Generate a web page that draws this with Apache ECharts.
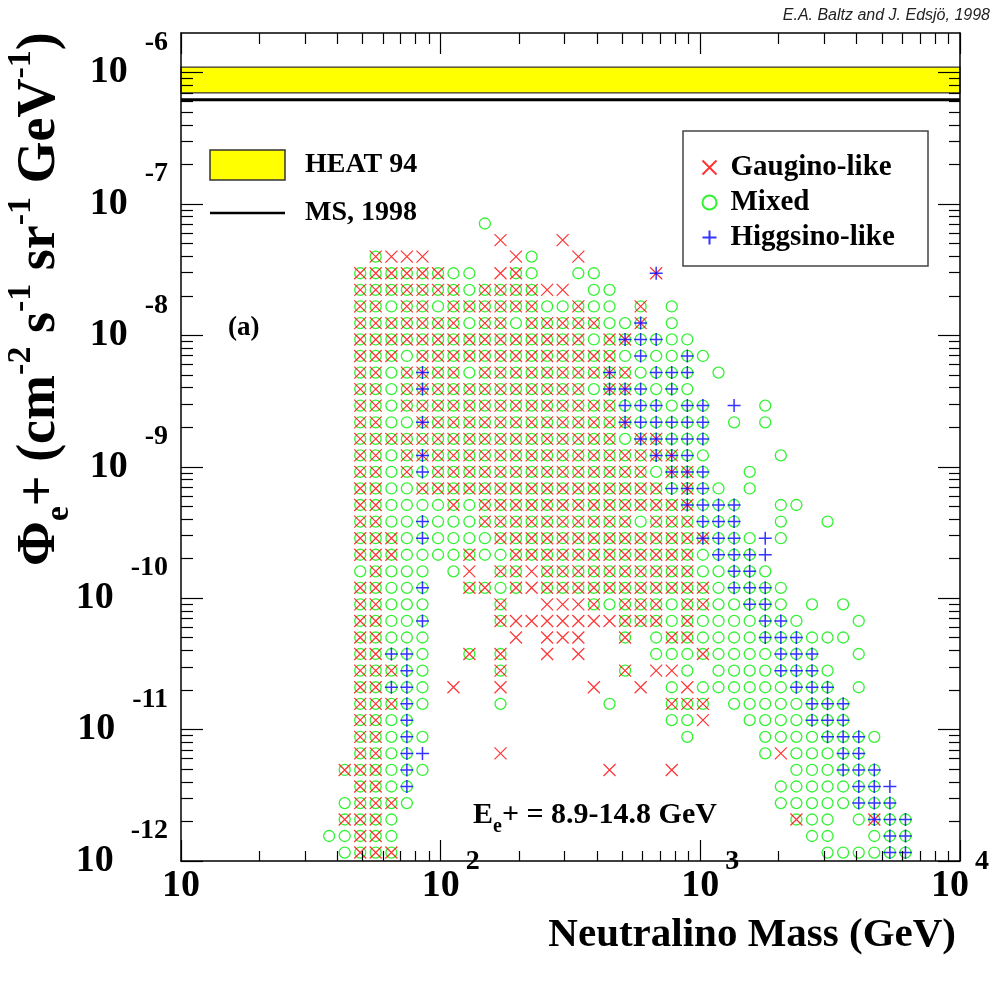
<!DOCTYPE html>
<html>
<head>
<meta charset="utf-8">
<script src="https://cdn.jsdelivr.net/npm/echarts@6.0.0/dist/echarts.min.js"></script>
<style>
  html, body { margin: 0; padding: 0; background: #fff; }
  #chart { width: 1001px; height: 983px; }
</style>
</head>
<body>
<div id="chart"></div>
<script>
// neutralino mass bins (GeV), left to right
var massGeV = [37.2, 42.7, 49.0, 56.2, 64.6, 74.1, 85.1, 97.7, 112, 129,
               148, 170, 195, 224, 257, 295, 339, 389, 447, 513,
               589, 676, 776, 891, 1023, 1175, 1349, 1549, 1778, 2042,
               2344, 2692, 3090, 3548, 4074, 4677, 5370, 6166];

// positron flux bins (cm^-2 s^-1 sr^-1 GeV^-1), top to bottom
var fluxRows = [7.10e-8, 5.31e-8, 3.97e-8, 2.97e-8, 2.22e-8, 1.66e-8, 1.24e-8,
                9.31e-9, 6.97e-9, 5.21e-9, 3.90e-9, 2.92e-9, 2.18e-9, 1.63e-9, 1.22e-9,
                9.14e-10, 6.84e-10, 5.12e-10, 3.83e-10, 2.86e-10, 2.14e-10, 1.60e-10, 1.20e-10,
                8.98e-11, 6.71e-11, 5.02e-11, 3.76e-11, 2.81e-11, 2.10e-11, 1.57e-11, 1.18e-11,
                8.81e-12, 6.59e-12, 4.93e-12, 3.69e-12, 2.76e-12, 2.07e-12, 1.55e-12, 1.16e-12];

// one string per flux row, one char per mass bin
// x gaugino, o mixed, + higgsino, # gaugino+mixed, @ mixed+higgsino, * gaugino+higgsino, & all three
var cellRows = [
  '..........|o.........|..........|........',
  '..........|.x...x....|..........|........',
  '...#xxx...|..xo..x...|..........|........',
  '..######oo|.x#o..oo..|.*........|........',
  '..#######o|####xx.oo.|..........|........',
  '..##o##o##|####oo#oo.|#.o.......|........',
  '..#######o|##o#####oo|&.o.......|........',
  '..########|#######o#&|@@oo......|........',
  '..###o####|#########o|@oo@o.....|........',
  '..##o#&##o|########&#|o@@@.o....|........',
  '..##o#&###|#######o&&|@o@o......|........',
  '..##o#####|#########@|@@o@@.+.o.|........',
  '..##oo&###|#########&|@@@@@.o.o.|........',
  '..########|#########o|&&@@@.....|........',
  '..##o#&###|##########|#&&@o....o|........',
  '..##o#@###|##########|#o&&@..o..|........',
  '..##oo####|##########|##@&@o.o..|........',
  '..##oooo#o|##########|###&@@@..o|o.......',
  '..##oo@ooo|##########|o###@@@..o|..o.....',
  '..###o@ooo|o#########|####&@@o+o|........',
  '..###oooo#|oo########|####o@@@+.|........',
  '..o#ooo.ox|.##x######|####oo@@o.|........',
  '..##oo@..#|#o#x######|#####o@@@o|........',
  '..##ooo...|.#..xxx#o#|##o##oo@@o|.o.o....',
  '..##oo@...|.#xxxxxxx#|##o#oooo@@|o...o...',
  '..##ooo...|..x.xxx..#|.o##oooo@@|@ooo....',
  '..##@@o..#|.#..x.x...|.ooo#oooo@|@@..o...',
  '..###@o...|.#.......#|.xxo.oooo@|@@o.....',
  '..##@@o.x.|.x.....x..|x.oxoooooo|@@@.o...',
  '..###@o...|.o......o.|..###.oooo|o@@@....',
  '..##o@....|..........|..oox..ooo|o@@@....',
  '..##o@o...|..........|...o....oo|oo@@@o..',
  '..##o@+...|.x........|........ox|ooo@@...',
  '.###o@o...|........x.|..x.......|ooo@@@..',
  '..##o@....|..........|.........o|oooo@@+.',
  '.o###o....|..........|.........o|oooo@@@.',
  '.###o.....|..........|..........|#oo.o&@@',
  'oo##o.....|..........|..........|.oo..o@@',
  '.o###.....|..........|..........|..oooo@@'
];

var heatBand = [7.0e-7, 1.1e-6];
var msLimit = 6.2e-7;

var xDecades = [10, 100, 1000, 10000];
var yDecades = [1e-12, 1e-11, 1e-10, 1e-9, 1e-8, 1e-7, 1e-6];
var minorSteps = [2, 3, 4, 5, 6, 7, 8, 9];

// split the grid into the three classes
var gaugino = [], mixed = [], higgsino = [];
cellRows.forEach(function (row, r) {
    var cells = row.replace(/\|/g, '');
    for (var c = 0; c < cells.length; c++) {
        var ch = cells.charAt(c);
        var pt = [massGeV[c], fluxRows[r]];
        if ('x#*&'.indexOf(ch) >= 0) gaugino.push(pt);
        if ('o#@&'.indexOf(ch) >= 0) mixed.push(pt);
        if ('+@*&'.indexOf(ch) >= 0) higgsino.push(pt);
    }
});

function minorTicks(decades, max) {
    var out = [];
    decades.forEach(function (d) {
        minorSteps.forEach(function (s) {
            if (d * s < max * 0.999) out.push(d * s);
        });
    });
    return out;
}
var xMinor = minorTicks(xDecades, 10000);
var yMinor = minorTicks(yDecades, 2e-6);

var serif = 'Liberation Serif';
var black = '#000';

function expOf(v) { return Math.round(Math.log(v) / Math.LN10); }

function axisBase(dim, pos, ticks, len, showLine) {
    var a = {
        type: 'log', logBase: 10, position: pos, z: 6,
        axisLine: { show: showLine, lineStyle: { color: black, width: 1.5 } },
        axisTick: { show: true, inside: true, length: len, customValues: ticks,
                    lineStyle: { color: black, width: 1.2 } },
        axisLabel: { show: false },
        splitLine: { show: false }
    };
    if (dim === 'x') { a.min = 10; a.max = 10000; }
    else { a.min = 1e-12; a.max = 2e-6; }
    return a;
}

var xMain = axisBase('x', 'bottom', xDecades, 21, true);
xMain.axisLabel = {
    show: true, customValues: xDecades, margin: 25, verticalAlign: 'middle',
    formatter: function (v) {
        var e = expOf(v);
        if (e === 1) return '{b|10}';
        if (e === 4) return '{b|10}{e|4}';
        return '{s|}{b|10}{e|' + e + '}';
    },
    rich: {
        b: { fontFamily: serif, fontWeight: 'bold', fontSize: 38, color: black },
        e: { fontFamily: serif, fontWeight: 'bold', fontSize: 28, color: black, padding: [0, 0, 48, 6] },
        s: { width: 20 }
    }
};
xMain.name = 'Neutralino Mass (GeV)';
xMain.nameLocation = 'end';
xMain.nameGap = -4;
xMain.nameTextStyle = { fontFamily: serif, fontWeight: 'bold', fontSize: 41, color: black,
                        align: 'right', verticalAlign: 'top', padding: [54, 0, 0, 0] };

var yMain = axisBase('y', 'left', yDecades, 22, true);
yMain.axisLabel = {
    show: true, customValues: yDecades, margin: 13,
    formatter: function (v) { return '{b|10}{e|' + expOf(v) + '}'; },
    rich: {
        b: { fontFamily: serif, fontWeight: 'bold', fontSize: 38, color: black },
        e: { fontFamily: serif, fontWeight: 'bold', fontSize: 28, color: black, padding: [0, 0, 60, 17] }
    }
};

var crossPath = 'path://M0,0L10,10M10,0L0,10';
var plusPath = 'path://M5,0L5,10M0,5L10,5';

var myChart = echarts.init(document.getElementById('chart'));
var option = {
    animation: false,
    backgroundColor: '#fff',
    grid: { left: 181, right: 41, top: 33, bottom: 122, outerBoundsMode: 'none' },
    xAxis: [
        xMain,
        axisBase('x', 'bottom', xMinor, 10, false),
        axisBase('x', 'top', xDecades, 21, true),
        axisBase('x', 'top', xMinor, 11, false)
    ],
    yAxis: [
        yMain,
        axisBase('y', 'left', yMinor, 12, false),
        axisBase('y', 'right', yDecades, 22, true),
        axisBase('y', 'right', yMinor, 11, false)
    ],
    legend: {
        data: ['Gaugino-like', 'Mixed', 'Higgsino-like'],
        orient: 'vertical', left: 695, top: 148,
        itemWidth: 14, itemHeight: 14, itemGap: 6,
        selectedMode: false,
        textStyle: { fontFamily: serif, fontWeight: 'bold', fontSize: 29, color: black,
                     lineHeight: 29, padding: [0, 0, 0, 9] }
    },
    graphic: [
        // legend frame
        { type: 'rect', shape: { x: 683, y: 131, width: 245, height: 135 },
          style: { fill: 'none', stroke: '#444', lineWidth: 1.5 }, z: 10 },
        // HEAT / MS key
        { type: 'rect', shape: { x: 210, y: 150, width: 75, height: 30 },
          style: { fill: '#ffff00', stroke: '#333', lineWidth: 1.5 }, z: 10 },
        { type: 'text', x: 305, y: 165,
          style: { text: 'HEAT 94', font: 'bold 28px "Liberation Serif"', fill: black,
                   align: 'left', verticalAlign: 'middle' }, z: 10 },
        { type: 'line', shape: { x1: 210, y1: 213, x2: 285, y2: 213 },
          style: { stroke: black, lineWidth: 2.5 }, z: 10 },
        { type: 'text', x: 305, y: 213,
          style: { text: 'MS, 1998', font: 'bold 28px "Liberation Serif"', fill: black,
                   align: 'left', verticalAlign: 'middle' }, z: 10 },
        { type: 'text', x: 228, y: 328,
          style: { text: '(a)', font: 'bold 27px "Liberation Serif"', fill: black,
                   align: 'left', verticalAlign: 'middle' }, z: 10 },
        { type: 'text', x: 473, y: 815,
          style: { text: '{b|E}{s|e}{b|+ = 8.9-14.8 GeV}', align: 'left', verticalAlign: 'middle',
                   rich: {
                       b: { font: 'bold 30px "Liberation Serif"', fill: black },
                       s: { font: 'bold 20px "Liberation Serif"', fill: black, padding: [24, 0, 0, 0] }
                   } }, z: 10 },
        // y axis title, reads bottom to top
        { type: 'text', x: 40, y: 566, rotation: Math.PI / 2,
          style: { text: '{b|\u03A6}{s|e}{b|+ (cm}{p|-2}{b| s}{p|-1}{b| sr}{p|-1}{b| GeV}{p|-1}{b|)}',
                   align: 'left', verticalAlign: 'middle',
                   rich: {
                       b: { font: 'bold 54px "Liberation Serif"', fill: black },
                       s: { font: 'bold 34px "Liberation Serif"', fill: black, padding: [38, 0, 0, 0] },
                       p: { font: 'bold 34px "Liberation Serif"', fill: black, padding: [0, 0, 38, 0] }
                   } }, z: 10 },
        { type: 'text', x: 990, y: 16,
          style: { text: 'E.A. Baltz and J. Edsj\u00f6, 1998', font: 'italic 16px "Liberation Sans"',
                   fill: '#222', align: 'right', verticalAlign: 'middle' }, z: 10 }
    ],
    series: [
        {
            name: 'HEAT 94', type: 'line', data: [], xAxisIndex: 0, yAxisIndex: 0, z: 1,
            markArea: {
                silent: true,
                itemStyle: { color: '#ffff00', borderColor: '#333', borderWidth: 1.2 },
                data: [[{ yAxis: heatBand[0] }, { yAxis: heatBand[1] }]]
            }
        },
        {
            name: 'MS, 1998', type: 'line', xAxisIndex: 0, yAxisIndex: 0, z: 1,
            data: [[10, msLimit], [10000, msLimit]],
            symbol: 'none', silent: true,
            lineStyle: { color: black, width: 3 }
        },
        {
            name: 'Mixed', type: 'scatter', data: mixed, xAxisIndex: 0, yAxisIndex: 0, z: 2,
            symbol: 'circle', symbolSize: 11,
            itemStyle: { color: 'none', borderColor: '#00ee00', borderWidth: 1.3 },
            emphasis: { disabled: true }
        },
        {
            name: 'Gaugino-like', type: 'scatter', data: gaugino, xAxisIndex: 0, yAxisIndex: 0, z: 3,
            symbol: crossPath, symbolSize: 12,
            itemStyle: { color: 'none', borderColor: '#ff0000', borderWidth: 1.2 },
            emphasis: { disabled: true }
        },
        {
            name: 'Higgsino-like', type: 'scatter', data: higgsino, xAxisIndex: 0, yAxisIndex: 0, z: 4,
            symbol: plusPath, symbolSize: 13,
            itemStyle: { color: 'none', borderColor: '#0000ff', borderWidth: 1.5 },
            emphasis: { disabled: true }
        }
    ]
};
myChart.setOption(option);
</script>
</body>
</html>
